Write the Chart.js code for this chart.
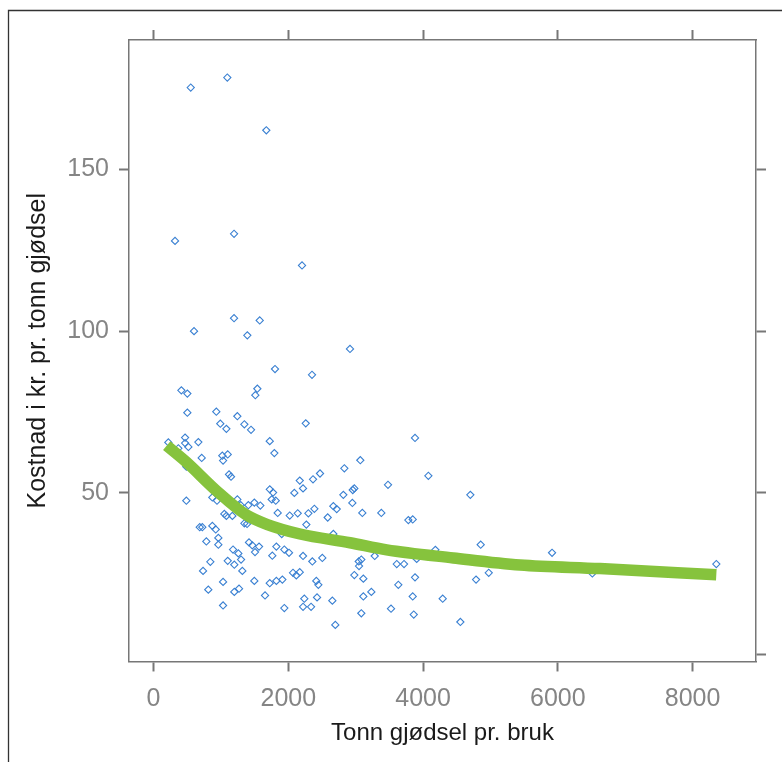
<!DOCTYPE html>
<html><head><meta charset="utf-8">
<script src="https://cdn.jsdelivr.net/npm/chart.js@4.4.1/dist/chart.umd.min.js"></script>
<style>html,body{margin:0;padding:0;background:#fff}#wrap{position:relative;width:782px;height:762px}</style>
</head><body><div id="wrap"><canvas id="c" width="782" height="762"></canvas></div>
<script>
const scatterX=[1095,552,1674,319,1195,2204,1195,1576,601,1392,2916,1803,2352,413,502,1541,1511,502,932,1244,2259,991,1081,1348,1447,468,468,517,665,220,368,1725,1793,715,1021,1101,1032,1121,1150,2170,2367,2471,2219,2090,1725,1774,487,873,942,1244,1754,1814,1407,1496,1585,1294,1843,2021,2140,2298,2387,1051,1081,1170,2585,686,724,873,923,1348,1388,1903,2268,784,962,962,1417,1466,1566,1506,1180,1259,1823,1941,2011,1763,2219,2505,2357,843,1101,1299,1199,735,1318,2070,2119,2170,1032,1496,1725,1823,1912,2416,2446,813,1199,1269,1655,2238,2427,1032,1941,2219,2338,3881,3069,2832,4079,3480,2980,2957,2817,4702,2951,2669,2719,3099,3381,3782,3847,2669,4183,4856,3906,3283,3046,3084,3050,3610,3718,4975,4787,2980,3114,3881,3633,3233,3114,3847,4292,2654,3525,3084,3862,4554,2698,5915,6513,8353,487];
const scatterY=[178.4,175.3,162.1,127.9,130.1,120.3,104.0,103.3,100.0,98.7,94.5,88.3,86.5,81.7,80.7,82.2,80.2,74.8,75.1,73.7,71.5,71.4,69.8,71.2,69.5,67.1,65.4,64.2,65.7,65.6,63.8,66.0,62.3,60.8,61.5,61.9,60.0,55.7,55.0,53.8,54.2,56.0,51.4,50.0,51.1,50.1,47.6,48.6,47.6,48.0,48.0,47.6,46.2,47.0,46.1,46.2,43.8,43.0,43.7,43.7,45.1,43.5,42.9,42.9,42.4,39.4,39.4,39.8,38.7,40.6,40.4,37.3,40.2,35.0,36.1,34.0,34.7,33.8,33.4,31.7,32.5,31.3,33.4,32.5,31.5,30.6,30.5,29.9,28.8,28.7,29.0,29.4,27.8,25.9,25.9,25.3,24.5,25.5,22.5,22.8,22.1,22.8,23.2,22.8,21.6,20.1,19.4,20.4,18.3,17.3,17.7,15.2,14.4,14.8,14.8,67.0,60.1,57.6,55.3,52.5,51.4,50.9,49.4,49.4,46.9,45.9,45.0,43.8,43.8,41.6,41.8,37.3,32.4,34.0,29.6,30.5,28.8,29.4,27.4,28.0,28.0,25.3,23.2,24.6,23.5,23.9,21.6,19.4,18.0,18.0,17.3,16.7,14.2,12.8,12.4,10.1,9.2,31.5,25.1,28.0,58.1];
const fitX=[196,478,938,1383,1680,2174,2916,3461,4450,5440,6627,8353];
const fitY=[64.6,59.7,50.6,43.1,40.3,37.3,34.6,32.4,29.9,27.7,26.6,24.7];
const xTickValues=[0,2000,4000,6000,8000];
const yLeftTickValues=[50,100,150];
const yRightTickValues=[0,50,100,150];
const xTitle='Tonn gjødsel pr. bruk';
const yTitle='Kostnad i kr. pr. tonn gjødsel';

Chart.defaults.font.family="'Liberation Sans', Arial, sans-serif";
const axisGrey='#777777';
const labelGrey='#858585';
const gridOpts={drawOnChartArea:false,drawTicks:true,tickLength:10,tickWidth:2,tickColor:axisGrey,color:axisGrey};
const borderOpts={display:true,color:axisGrey,width:1.5};
const setTicks=vals=>axis=>{axis.ticks=vals.map(v=>({value:v}));};
const plain=v=>String(v);

const framePlugin={id:'frame',beforeDraw(chart){const c=chart.ctx;c.save();c.fillStyle='#fff';c.fillRect(0,0,chart.width,chart.height);c.strokeStyle='#333';c.lineWidth=1.3;c.beginPath();c.moveTo(8.5,chart.height);c.lineTo(8.5,10.5);c.lineTo(chart.width,10.5);c.stroke();c.restore();}};

new Chart(document.getElementById('c'),{
  type:'scatter',
  data:{datasets:[
    {type:'line',data:fitX.map((x,i)=>({x,y:fitY[i]})),borderColor:'#86c33d',borderWidth:11.5,pointRadius:0,fill:false,cubicInterpolationMode:'monotone',borderCapStyle:'butt',order:0},
    {data:scatterX.map((x,i)=>({x,y:scatterY[i]})),pointStyle:'rectRot',pointRadius:3.6,pointBorderWidth:1.1,pointBorderColor:'#3a80d2',pointBackgroundColor:'rgba(255,255,255,0)',order:1}
  ]},
  options:{
    responsive:false,animation:false,devicePixelRatio:1,
    layout:{padding:{top:30,right:16,bottom:23.5,left:19}},
    plugins:{legend:{display:false},tooltip:{enabled:false}},
    scales:{
      x:{type:'linear',position:'bottom',min:-364,max:8942,afterBuildTicks:setTicks(xTickValues),
        ticks:{font:{size:25,lineHeight:1},color:labelGrey,padding:15.5,callback:plain},grid:gridOpts,border:borderOpts,
        title:{display:true,text:xTitle,font:{size:24,lineHeight:0.46},color:'#1a1a1a',padding:{top:0,bottom:0}}},
      x2:{type:'linear',position:'top',min:-364,max:8942,afterBuildTicks:setTicks(xTickValues),
        ticks:{display:false},grid:gridOpts,border:borderOpts},
      y:{type:'linear',position:'left',min:-2.1,max:190,afterBuildTicks:setTicks(yLeftTickValues),
        ticks:{font:{size:25},color:labelGrey,padding:10,callback:plain},grid:gridOpts,border:borderOpts,
        title:{display:true,text:yTitle,font:{size:25},color:'#1a1a1a',padding:{top:4,bottom:4.3}}},
      y2:{type:'linear',position:'right',min:-2.1,max:190,afterBuildTicks:setTicks(yRightTickValues),
        ticks:{display:false},grid:gridOpts,border:borderOpts}
    }
  },
  plugins:[framePlugin]
});
</script></body></html>
